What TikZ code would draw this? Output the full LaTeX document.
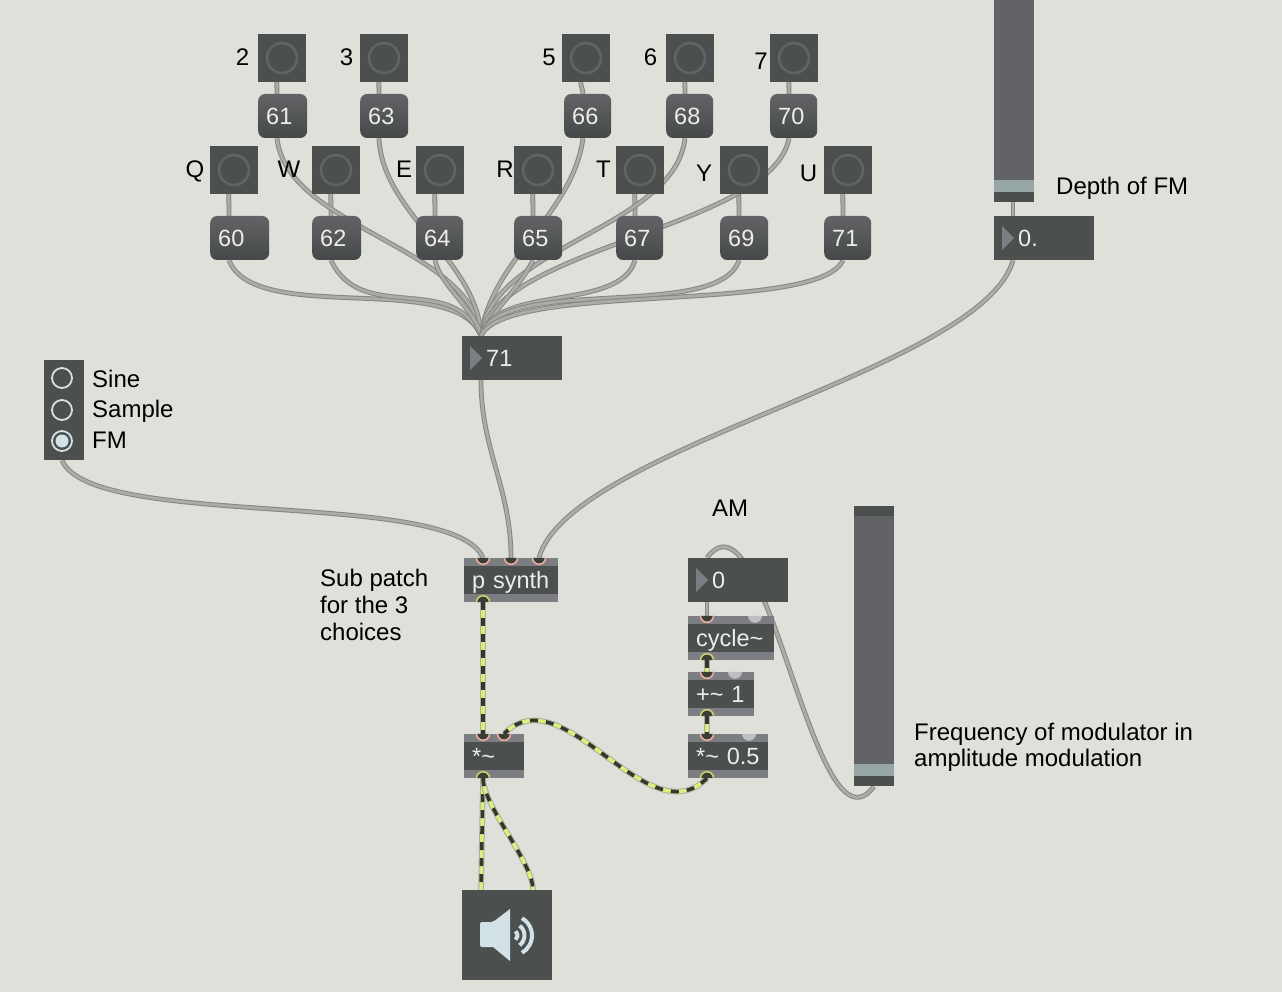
\documentclass[tikz,border=0pt]{standalone}
\usepackage{fontspec}
\setmainfont{Liberation Sans}
\usetikzlibrary{backgrounds}
\definecolor{paper}{HTML}{DFE0D9}
\definecolor{boxdark}{HTML}{4B4F4E}
\definecolor{bandgrey}{HTML}{7D7E83}
\definecolor{slidegrey}{HTML}{626366}
\definecolor{knobgrey}{HTML}{96A5A5}
\definecolor{cordfill}{HTML}{ABABA8}
\definecolor{cordedge}{HTML}{868684}
\definecolor{iconblue}{HTML}{D2E2E6}
\definecolor{sigyellow}{HTML}{D8F07C}
\definecolor{sigdark}{HTML}{33382C}
\definecolor{inpink}{HTML}{EDA99C}
\definecolor{outyellow}{HTML}{CFCF6E}
\definecolor{hotgrey}{HTML}{BDBEC0}
\tikzset{
  label/.style={font=\fontsize{24}{26}\selectfont,inner sep=0pt,text=black,text height=17pt,text depth=0pt},
  keybtn/.style={rectangle,fill=boxdark,minimum size=48pt,inner sep=0pt,
    path picture={\draw[slidegrey,line width=2.6pt] (path picture bounding box.center) circle (15);}},
  numkey/.style={rectangle,rounded corners=7pt,top color=slidegrey,bottom color=boxdark!92!black,
    minimum height=44pt,text width=#1,align=left,inner xsep=8pt,inner ysep=0pt,text=white!93!black,
    font=\fontsize{23.5}{26}\selectfont,anchor=west,text height=17pt,text depth=0pt},
  numbox/.style={rectangle,fill=boxdark,minimum height=44pt,minimum width=100pt,text width=52pt,align=left,
    inner xsep=24pt,inner ysep=0pt,text=white!93!black,font=\fontsize{23.5}{26}\selectfont,anchor=west,
    text height=17pt,text depth=0pt,
    path picture={\fill[bandgrey] ([xshift=8pt,yshift=12pt]path picture bounding box.west)
      -- ++(12,12) -- ++(-12,12) -- cycle;}},
  objbox/.style={rectangle,fill=boxdark,minimum height=44pt,text width=#1,align=left,
    inner xsep=8pt,inner ysep=0pt,text=white!93!black,font=\fontsize{23.5}{26}\selectfont,anchor=west,
    text height=17pt,text depth=0pt,
    path picture={\fill[bandgrey] (path picture bounding box.north west) rectangle
        ([yshift=-8pt]path picture bounding box.north east);
      \fill[bandgrey] (path picture bounding box.south west) rectangle
        ([yshift=8pt]path picture bounding box.south east);}},
  slider/.style={rectangle,fill=slidegrey,minimum width=40pt,minimum height=#1,inner sep=0pt,anchor=north west,
    path picture={\fill[boxdark] (path picture bounding box.south west) rectangle
        ([yshift=10pt]path picture bounding box.south east);
      \fill[knobgrey] ([yshift=10pt]path picture bounding box.south west) rectangle
        ([yshift=22pt]path picture bounding box.south east);}},
  inport/.style={fill=sigdark!70!boxdark,draw=inpink,line width=1.6pt},
  outport/.style={fill=sigdark!70!boxdark,draw=outyellow,line width=1.6pt},
  cord/.style 2 args={to path={.. controls +(#1,#2) and +(-#1,-#2) .. (\tikztotarget)}},
  straight/.style={to path={-- (\tikztotarget)}},
  patch/.style={every edge/.style={draw=cordedge,line width=1pt,double=cordfill,double distance=2.8pt}},
  sig/.style={every edge/.style={draw=sigdark,line width=3.6pt,dash pattern=on 8pt off 8pt,
    preaction={draw=cordfill,solid,line width=5.6pt},
    preaction={draw=sigyellow,solid,line width=3.6pt}}}
}
\newcommand{\inpt}[2]{\draw[inport] ([xshift=#2pt]#1.north west) ++(-6.5,0) arc (180:360:6.5 and -6.5);}
\newcommand{\outpt}[2]{\draw[outport] ([xshift=#2pt]#1.south west) ++(-6.5,0) arc (180:0:6.5 and -6.5);}
\newcommand{\hotpt}[2]{\fill[hotgrey] ([xshift=#2pt]#1.north west) ++(-7,0) arc (180:360:7 and -7);}
\begin{document}
\begin{tikzpicture}[x=1pt,y=-1pt]
  \useasboundingbox (0,0) rectangle (1282,992);
  % top row of keys
  \node[keybtn] (k2) at (282,58) {};
  \node[keybtn] (k3) at (384,58) {};
  \node[keybtn] (k5) at (586,58) {};
  \node[keybtn] (k6) at (690,58) {};
  \node[keybtn] (k7) at (794,58) {};
  \node[numkey=33pt] (n61) at (258,116) {61};
  \node[numkey=32pt] (n63) at (360,116) {63};
  \node[numkey=31pt] (n66) at (564,116) {66};
  \node[numkey=31pt] (n68) at (666,116) {68};
  \node[numkey=31pt] (n70) at (770,116) {70};
  % bottom row of keys
  \node[keybtn] (kq) at (234,170) {};
  \node[keybtn] (kw) at (336,170) {};
  \node[keybtn] (ke) at (440,170) {};
  \node[keybtn] (kr) at (538,170) {};
  \node[keybtn] (kt) at (640,170) {};
  \node[keybtn] (ky) at (744,170) {};
  \node[keybtn] (ku) at (848,170) {};
  \node[numkey=43pt] (n60) at (210,238) {60};
  \node[numkey=33pt] (n62) at (312,238) {62};
  \node[numkey=31pt] (n64) at (416,238) {64};
  \node[numkey=32pt] (n65) at (514,238) {65};
  \node[numkey=31pt] (n67) at (616,238) {67};
  \node[numkey=32pt] (n69) at (720,238) {69};
  \node[numkey=31pt] (n71) at (824,238) {71};
  % key labels
  \node[label] (l2) at (242.5,57) {2};
  \node[label] (l3) at (346.5,57) {3};
  \node[label] (l5) at (549,57) {5};
  \node[label] (l6) at (650.5,57) {6};
  \node[label] (l7) at (761,61) {7};
  \node[label] (lq) at (195,169.5) {Q};
  \node[label] (lw) at (289,169.5) {W};
  \node[label] (le) at (404,169.5) {E};
  \node[label] (lr) at (505,169.5) {R};
  \node[label] (lt) at (603.5,169) {T};
  \node[label] (ly) at (704,173.5) {Y};
  \node[label] (lu) at (808.5,173.5) {U};
  % number boxes
  \node[numbox] (pitch) at (462,358) {71};
  \node[numbox] (depth) at (994,238) {0.};
  \node[numbox] (freq) at (688,580) {0};
  % objects
  \node[objbox=78pt] (synth) at (464,580) {\mbox{p synth}};
  \node[objbox=44pt] (mult) at (464,756) {*\textasciitilde};
  \node[objbox=70pt] (cyc) at (688,638) {cycle\textasciitilde};
  \node[objbox=50pt] (plus) at (688,694) {\mbox{+\textasciitilde{} 1}};
  \node[objbox=64pt] (gain) at (688,756) {\mbox{*\textasciitilde{} 0.5}};
  % sliders
  \node[slider=202pt] (depthslider) at (994,0) {};
  \node[slider=280pt] (freqslider) at (854,506) {};
  \fill[boxdark] (freqslider.north west) rectangle ([yshift=-10pt]freqslider.north east);
  % radio buttons
  \node[rectangle,fill=boxdark,minimum width=40pt,minimum height=100pt,inner sep=0pt,anchor=north west]
    (mode) at (44,360) {};
  \draw[iconblue,line width=1.8pt] (62,378) circle (10) (62,410) circle (10) (62,441) circle (10);
  \fill[iconblue] (62,441) circle (6.5);
  % speaker
  \node[rectangle,fill=boxdark,minimum size=90pt,inner sep=0pt,anchor=north west] (dac) at (462,890) {};
  \fill[iconblue,rounded corners=2pt] (480,922) -- (493,922) [sharp corners] -- (510,909) -- (510,961) -- (493,947)
    [rounded corners=2pt] -- (480,947) -- cycle;
  \draw[iconblue,line width=4pt]
    (512,935.5) ++(-50:5.5) arc (-50:50:5.5)
    (512,935.5) ++(-52:12.5) arc (-52:52:12.5)
    (512,935.5) ++(-60:20) arc (-60:60:20);
  % texts
  \node[label,anchor=west] (tsine) at (92,379) {Sine};
  \node[label,anchor=west] (tsample) at (92,409) {Sample};
  \node[label,anchor=west] (tfm) at (92,440) {FM};
  \node[label,anchor=west] (tdepth) at (1056,186) {Depth of FM};
  \node[label,anchor=west] (tam) at (712,508) {AM};
  \node[label,anchor=north west,align=left,font=\fontsize{24}{27}\selectfont,text height=,text depth=]
    (tsub) at (320,569) {Sub patch\\for the 3\\choices};
  \node[label,anchor=west,align=left,text height=,text depth=] (tfreq) at (914,747) {Frequency of modulator in\\amplitude modulation};
  % ports
  \inpt{synth}{19} \inpt{synth}{47} \inpt{synth}{75} \outpt{synth}{19}
  \inpt{mult}{19} \inpt{mult}{40} \outpt{mult}{19}
  \inpt{cyc}{19} \hotpt{cyc}{67} \outpt{cyc}{19}
  \inpt{plus}{19} \hotpt{plus}{47} \outpt{plus}{19}
  \inpt{gain}{19} \hotpt{gain}{61} \outpt{gain}{19}
  \begin{scope}[on background layer]
    \fill[paper] (0,0) rectangle (1282,992);
    \path[patch]
    ([xshift=19pt]k2.south west) edge[straight] ([xshift=19pt]n61.north west)
    ([xshift=19pt]k3.south west) edge[straight] ([xshift=19pt]n63.north west)
    ([xshift=19pt]k5.south west) edge[cord={0}{5}] ([xshift=19pt]n66.north west)
    ([xshift=19pt]k6.south west) edge[straight] ([xshift=19pt]n68.north west)
    ([xshift=19pt]k7.south west) edge[straight] ([xshift=19pt]n70.north west)
    ([xshift=19pt]kq.south west) edge[straight] ([xshift=19pt]n60.north west)
    ([xshift=19pt]kw.south west) edge[straight] ([xshift=19pt]n62.north west)
    ([xshift=19pt]ke.south west) edge[straight] ([xshift=19pt]n64.north west)
    ([xshift=19pt]kr.south west) edge[straight] ([xshift=19pt]n65.north west)
    ([xshift=19pt]kt.south west) edge[straight] ([xshift=19pt]n67.north west)
    ([xshift=19pt]ky.south west) edge[straight] ([xshift=19pt]n69.north west)
    ([xshift=19pt]ku.south west) edge[straight] ([xshift=19pt]n71.north west)
    ([xshift=19pt]n61.south west) edge[cord={10}{90}] ([xshift=19pt]pitch.north west)
    ([xshift=19pt]n63.south west) edge[cord={3}{75}] ([xshift=19pt]pitch.north west)
    ([xshift=19pt]n66.south west) edge[cord={-10}{76}] ([xshift=19pt]pitch.north west)
    ([xshift=19pt]n68.south west) edge[cord={-10}{90}] ([xshift=19pt]pitch.north west)
    ([xshift=19pt]n70.south west) edge[cord={-17}{90}] ([xshift=19pt]pitch.north west)
    ([xshift=19pt]n60.south west) edge[cord={25}{66}] ([xshift=19pt]pitch.north west)
    ([xshift=19pt]n62.south west) edge[cord={30}{65}] ([xshift=19pt]pitch.north west)
    ([xshift=19pt]n64.south west) edge[cord={5}{25}] ([xshift=19pt]pitch.north west)
    ([xshift=19pt]n65.south west) edge[cord={-15}{30}] ([xshift=19pt]pitch.north west)
    ([xshift=19pt]n67.south west) edge[cord={-15}{52}] ([xshift=19pt]pitch.north west)
    ([xshift=19pt]n69.south west) edge[cord={-20}{62}] ([xshift=19pt]pitch.north west)
    ([xshift=19pt]n71.south west) edge[cord={-25}{55}] ([xshift=19pt]pitch.north west)
    ([xshift=19pt]pitch.south west) edge[cord={0}{70}] ([xshift=47pt]synth.north west)
    ([xshift=19pt]depthslider.south west) edge[straight] ([xshift=19pt]depth.north west)
    ([xshift=19pt]depth.south west) edge[cord={-30}{110}] ([xshift=75pt]synth.north west)
    ([xshift=18pt]mode.south west) edge[cord={30}{70}] ([xshift=19pt]synth.north west)
    ([xshift=20pt]freqslider.south west) edge[cord={-60}{80}] ([xshift=19pt]freq.north west)
    ([xshift=19pt]freq.south west) edge[straight] ([xshift=19pt]cyc.north west);
    \path[sig]
    ([xshift=19pt]synth.south west) edge[straight] ([xshift=19pt]mult.north west)
    ([xshift=19pt]mult.south west) edge[straight] ([xshift=19pt]dac.north west)
    ([xshift=19pt]mult.south west) edge[cord={0}{28}] ([xshift=71pt]dac.north west)
    ([xshift=19pt]cyc.south west) edge[straight] ([xshift=19pt]plus.north west)
    ([xshift=19pt]plus.south west) edge[straight] ([xshift=19pt]gain.north west)
    ([xshift=19pt]gain.south west) edge[cord={-60}{60}] ([xshift=40pt]mult.north west);
  \end{scope}
\end{tikzpicture}
\end{document}
